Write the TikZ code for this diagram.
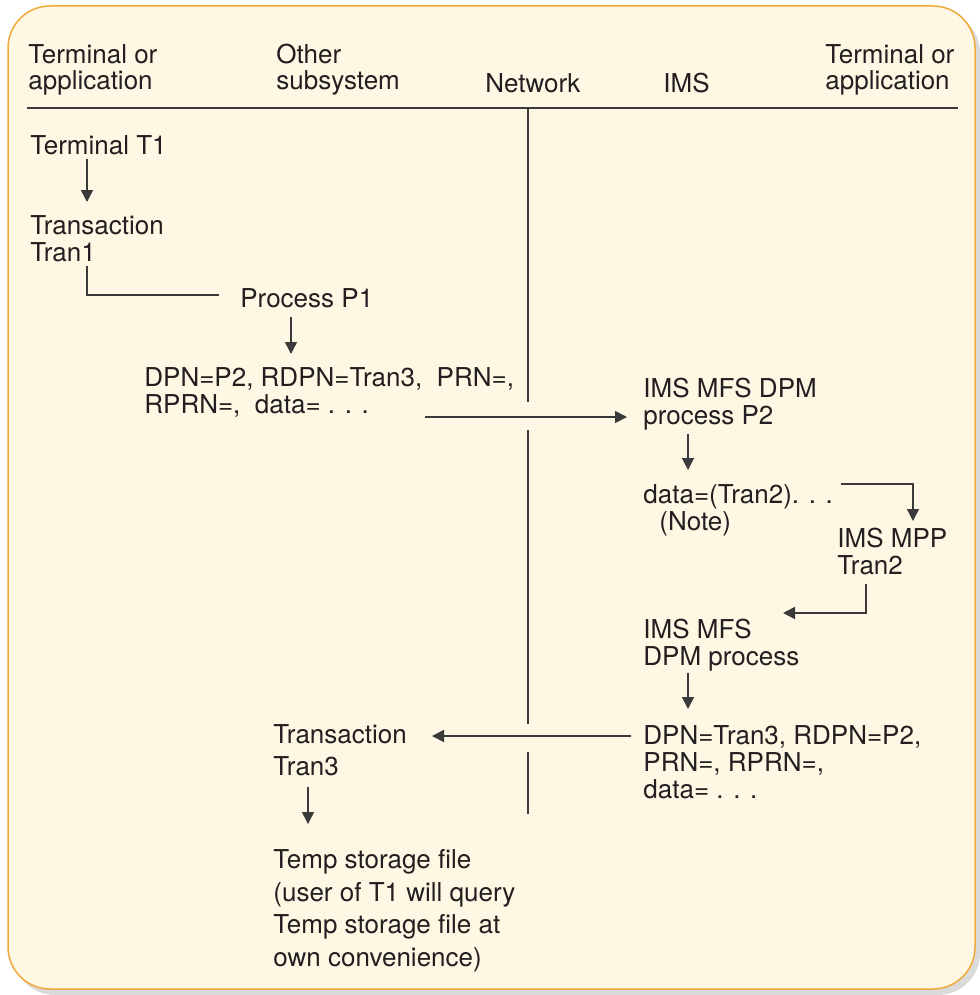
\documentclass[tikz,border=0pt]{standalone}
\usepackage{fontspec}
\setmainfont{TeX Gyre Heros}
\usetikzlibrary{arrows.meta,positioning}
\definecolor{Ink}{HTML}{231F20}
\definecolor{Rule}{HTML}{3A3A3A}
\definecolor{Cream}{HTML}{FDF7E4}
\definecolor{Amber}{HTML}{F2A93B}
\definecolor{Shade}{HTML}{DADADA}
\tikzset{
  >={Triangle[length=6pt,width=6pt]},
  lbl/.style={anchor=base west,inner sep=0pt,align=left,text=Ink,
    font=\fontsize{13}{13.4}\selectfont},
  loose/.style={lbl,font=\fontsize{13}{15.8}\selectfont},
  flow/.style={->,line width=.75pt,draw=Rule},
  link/.style={line width=.75pt,draw=Rule},
  card/.style={rounded corners=21pt}
}

\begin{document}
\begin{tikzpicture}[x=.5pt,y=-.5pt]
  \useasboundingbox (0,0) rectangle (979,995);
  % frame with shadow
  \fill[card,Shade] (13,11) rectangle (980,995);
  \filldraw[card,fill=Cream,draw=Amber,line width=.75pt] (8,6) rectangle (975,989);

  % column heads (base = last line)
  \node[lbl] (hterm)  at (28,90)  {Terminal or\\application};
  \node[lbl] (hother) at (276,90) {Other\\subsystem};
  \node[lbl] (hnet)   at (485,93) {Network};
  \node[lbl] (hims)   at (663,93) {IMS};
  \node[lbl] (hterm2) at (825,90) {Terminal or\\application};
  \coordinate (ruleL) at (27,108);
  \coordinate (ruleR) at (958,108);
  \draw[link] (ruleL) -- (ruleR);

  % network line, broken where the messages cross
  \coordinate (n0) at (528,108);
  \coordinate (n1) at (528,402);
  \coordinate (n2) at (528,430);
  \coordinate (n3) at (528,724);
  \coordinate (n4) at (528,752);
  \coordinate (n5) at (528,814);
  \draw[link] (n0) -- (n1) (n2) -- (n3) (n4) -- (n5);

  % left side
  \node[lbl] (t1)    at (30,155)  {Terminal T1};
  \node[lbl] (tran1) at (30,261)  {Transaction\\Tran1};
  \node[lbl] (p1)    at (240,307) {Process P1};
  \node[lbl] (msg1)  at (144,413) {DPN=P2, RDPN=Tran3,\ \ PRN=,\\RPRN=,\ \ data= . . .};
  \node[lbl] (tran3) at (273,775) [loose] {Transaction\\Tran3};
  \node[lbl] (temp)  at (273,966) [loose,font=\fontsize{13}{16.2}\selectfont]
    {Temp storage file\\(user of T1 will query\\Temp storage file at\\own convenience)};

  % IMS side
  \node[lbl] (dpm1) at (643,424) {IMS MFS DPM\\process P2};
  \node[lbl] (dat2) at (643,530) {data=(Tran2). . .\\\hspace*{8pt}(Note)};
  \node[lbl] (mpp)  at (837,574) {IMS MPP\\Tran2};
  \node[lbl] (dpm2) at (643,665) {IMS MFS\\DPM process};
  \node[lbl] (msg2) at (643,798) {DPN=Tran3, RDPN=P2,\\PRN=, RPRN=,\\data= . . .};

  % connector ends
  \coordinate (a1) at (87,159);  \coordinate (a2) at (87,202);
  \coordinate (b1) at (87,266);  \coordinate (b2) at (219,295);
  \coordinate (c1) at (291,317); \coordinate (c2) at (291,354);
  \coordinate (d1) at (425,417); \coordinate (d2) at (627,417);
  \coordinate (e1) at (688,434); \coordinate (e2) at (688,470);
  \coordinate (f1) at (841,484); \coordinate (f2) at (913,521);
  \coordinate (g1) at (866,584); \coordinate (g2) at (783,613);
  \coordinate (h1) at (688,673); \coordinate (h2) at (688,709);
  \coordinate (i1) at (631,736); \coordinate (i2) at (432,736);
  \coordinate (j1) at (308,787); \coordinate (j2) at (308,824);

  \draw[flow] (a1) -- (a2);
  \draw[link] (b1) |- (b2);
  \draw[flow] (c1) -- (c2);
  \draw[flow] (d1) -- (d2);
  \draw[flow] (e1) -- (e2);
  \draw[flow] (f1) -| (f2);
  \draw[flow] (g1) |- (g2);
  \draw[flow] (h1) -- (h2);
  \draw[flow] (i1) -- (i2);
  \draw[flow] (j1) -- (j2);
\end{tikzpicture}
\end{document}
